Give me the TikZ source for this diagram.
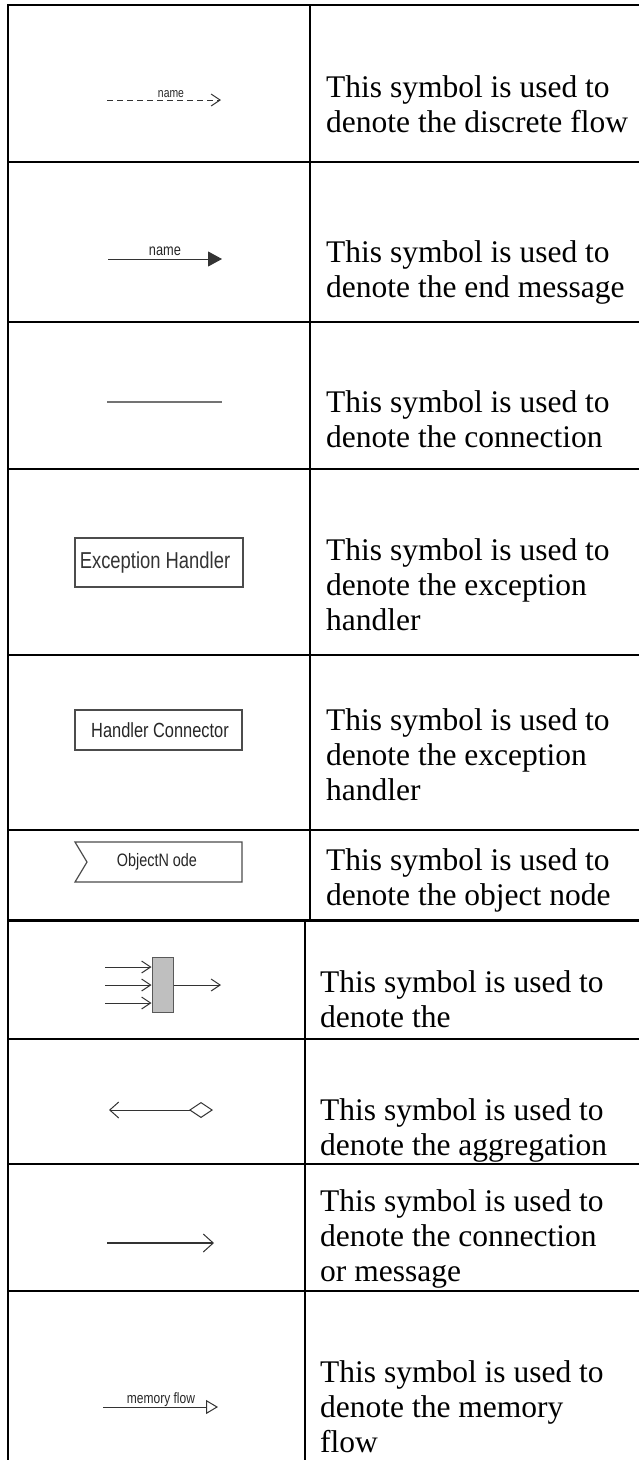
\documentclass[tikz,border=0pt]{standalone}
\usepackage{fontspec}
\setmainfont{Liberation Serif}
\newfontfamily\symsans[FakeStretch=0.8]{Liberation Sans}
\usetikzlibrary{arrows.meta}
\begin{document}
\begin{tikzpicture}[x=1pt,y=-1pt,
  gridline/.style={line width=2pt},
  desc/.style={anchor=base west, inner sep=0pt, font=\fontsize{31.5}{35}\selectfont},
  symline/.style={draw=black!80, line width=1pt},
  lbl/.style={inner sep=0pt, text=black!85},
  boxsym/.style={draw=black!70, line width=1.2pt},
  openhead/.style={-{Straight Barb[length=9pt,width=12pt,line width=1pt]}},
]
\useasboundingbox (0,0) rectangle (639,1460);
% ---------------- grid ----------------
\draw[gridline] (8,1460) -- (8,5) -- (639,5);
\foreach \yy in {162,322,469,655,830,1039,1164,1291}
  \draw[gridline] (8,\yy) -- (639,\yy);
\draw[line width=3pt] (8,920) -- (639,920);
\draw[gridline] (310,5) -- (310,920);
\draw[gridline] (305,920) -- (305,1460);
% ---------------- texts ----------------
\node[desc] (t1a) at (326,97)  {This symbol is used to};
\node[desc] (t1b) at (326,132) {denote the discrete flow};
\node[desc] (t2a) at (326,262) {This symbol is used to};
\node[desc] (t2b) at (326,297) {denote the end message};
\node[desc] (t3a) at (326,412) {This symbol is used to};
\node[desc] (t3b) at (326,447) {denote the connection};
\node[desc] (t4a) at (326,560) {This symbol is used to};
\node[desc] (t4b) at (326,595) {denote the exception};
\node[desc] (t4c) at (326,630) {handler};
\node[desc] (t5a) at (326,730) {This symbol is used to};
\node[desc] (t5b) at (326,765) {denote the exception};
\node[desc] (t5c) at (326,800) {handler};
\node[desc] (t6a) at (326,870) {This symbol is used to};
\node[desc] (t6b) at (326,905) {denote the object node};
\node[desc] (t7a) at (320,992)  {This symbol is used to};
\node[desc] (t7b) at (320,1027) {denote the};
\node[desc] (t8a) at (320,1120) {This symbol is used to};
\node[desc] (t8b) at (320,1155) {denote the aggregation};
\node[desc] (t9a) at (320,1211) {This symbol is used to};
\node[desc] (t9b) at (320,1246) {denote the connection};
\node[desc] (t9c) at (320,1281) {or message};
\node[desc] (t10a) at (320,1382) {This symbol is used to};
\node[desc] (t10b) at (320,1417) {denote the memory};
\node[desc] (t10c) at (320,1452) {flow};
% ---------------- row 1: discrete flow ----------------
\coordinate (d1s) at (107,100);
\coordinate (d1e) at (221,100);
\draw[symline, dash pattern=on 6pt off 4pt, openhead] (d1s) -- (d1e);
\node[lbl, anchor=base, font=\symsans\fontsize{13}{13}\selectfont] (n1) at (171,97) {name};
% ---------------- row 2: end message ----------------
\coordinate (d2s) at (108,259);
\coordinate (d2e) at (222,259);
\draw[symline, -{Triangle[length=14pt,width=15pt]}] (d2s) -- (d2e);
\node[lbl, anchor=base, font=\symsans\fontsize{16}{16}\selectfont] (n2) at (165,255) {name};
% ---------------- row 3: connection ----------------
\coordinate (d3s) at (107,402);
\coordinate (d3e) at (222,402);
\draw[draw=black!55, line width=1.2pt] (d3s) -- (d3e);
% ---------------- row 4: exception handler ----------------
\node[boxsym, minimum width=168pt, minimum height=49pt, inner sep=0pt] (eh) at (159,562.5) {};
\node[lbl, font=\symsans\fontsize{23}{23}\selectfont, text=black!80] (ehl) at (155,562.5) {Exception Handler};
% ---------------- row 5: handler connector ----------------
\node[boxsym, minimum width=167pt, minimum height=40pt, inner sep=0pt] (hc) at (158.5,730) {};
\node[lbl, font=\symsans\fontsize{20.5}{20.5}\selectfont] (hcl) at (160,730) {Handler Connector};
% ---------------- row 6: object node ----------------
\draw[boxsym] (75,842) -- (87,862) -- (75,882) -- (242,882) -- (242,842) -- cycle;
\node[lbl, font=\symsans\fontsize{18}{18}\selectfont] (on) at (157,862) {ObjectN ode};
% ---------------- row 7: join bar ----------------
\node[draw=black!65, fill=black!25, line width=1pt, minimum width=21pt, minimum height=55pt,
      inner sep=0pt] (bar) at (162.5,984.5) {};
\coordinate (i1) at (105,967);
\coordinate (i2) at (105,985);
\coordinate (i3) at (105,1003);
\coordinate (o1) at (221,985);
\draw[symline, openhead] (i1) -- (i1 -| bar.west);
\draw[symline, openhead] (i2) -- (i2 -| bar.west);
\draw[symline, openhead] (i3) -- (i3 -| bar.west);
\draw[symline, openhead] (o1 -| bar.east) -- (o1);
% ---------------- row 8: aggregation ----------------
\coordinate (a1) at (213,1110);
\coordinate (a2) at (109,1110);
\draw[symline, {Diamond[open,length=24pt,width=16pt,line width=1pt]}-{Straight Barb[length=9pt,width=16pt,line width=1pt]}] (a1) -- (a2);
% ---------------- row 9: connection or message ----------------
\coordinate (c9s) at (107,1243);
\coordinate (c9e) at (214,1243);
\draw[symline, line width=1.3pt, -{Straight Barb[length=10pt,width=18pt,line width=1pt]}] (c9s) -- (c9e);
% ---------------- row 10: memory flow ----------------
\coordinate (m1) at (103,1407);
\coordinate (m2) at (218,1407);
\draw[symline, -{Triangle[open,length=12pt,width=14pt,line width=1pt]}] (m1) -- (m2);
\node[lbl, anchor=base, font=\symsans\fontsize{15}{15}\selectfont] (mf) at (161,1403) {memory flow};
\end{tikzpicture}
\end{document}
